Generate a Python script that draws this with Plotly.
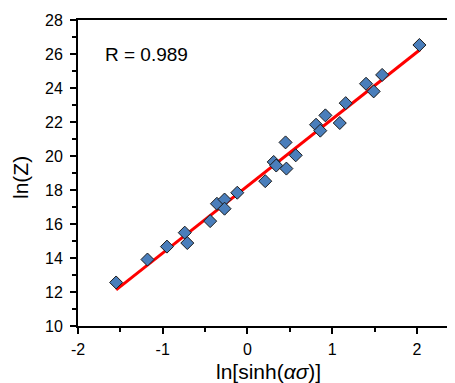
import plotly.graph_objects as go

# data
x_vals = [-1.55, -1.18, -0.95, -0.74, -0.71, -0.44, -0.36, -0.27, -0.27, -0.12,
          0.21, 0.31, 0.34, 0.45, 0.46, 0.57, 0.81, 0.86, 0.92, 1.09,
          1.16, 1.40, 1.49, 1.59, 2.03]
y_vals = [12.56, 13.91, 14.67, 15.49, 14.88, 16.17, 17.19, 17.44, 16.90, 17.84,
          18.52, 19.65, 19.44, 20.80, 19.26, 20.04, 21.84, 21.49, 22.39, 21.94,
          23.11, 24.25, 23.80, 24.77, 26.53]
fit_x = [-1.55, 2.04]
fit_slope = 3.94
fit_intercept = 18.23
fit_y = [fit_intercept + fit_slope * v for v in fit_x]
x_ticks = [-2, -1, 0, 1, 2]
x_ticklabels = ["-2", "-1", "0", "1", "2"]
y_ticks = [10, 12, 14, 16, 18, 20, 22, 24, 26, 28]
r_text = "R = 0.989"
x_title = "ln[sinh(<i>ασ</i>)]"
y_title = "ln(Z)"

FONT = "Liberation Sans, Arial, sans-serif"
OFF = 8  # default page body margin
W, H = 455 - OFF, 383 - OFF
ml, mr, mt, mb = 78 - OFF, 0, 20 - OFF, 383 - 326
pw, ph = W - ml - mr, H - mt - mb


def px_x(p):
    return (p - OFF - ml) / pw


def px_y(p):
    return 1 - (p - OFF - mt) / ph


fig = go.Figure()
fig.add_trace(go.Scatter(x=fit_x, y=fit_y, mode="lines",
                         line=dict(color="#ff0000", width=3), showlegend=False))
fig.add_trace(go.Scatter(x=x_vals, y=y_vals, mode="markers",
                         marker=dict(symbol="diamond", size=10, color="#4a7ebb",
                                     line=dict(color="#1a1a1a", width=1)),
                         showlegend=False))

fig.add_annotation(text=r_text, x=px_x(103), y=px_y(54), xref="paper", yref="paper",
                   showarrow=False, font=dict(family=FONT, size=19, color="black"),
                   xanchor="left", yanchor="middle")
fig.add_annotation(text=x_title, x=px_x(268), y=px_y(371), xref="paper", yref="paper",
                   showarrow=False, font=dict(family=FONT, size=21, color="black"),
                   xanchor="center", yanchor="middle")
fig.add_annotation(text=y_title, x=px_x(20), y=px_y(178), xref="paper", yref="paper",
                   showarrow=False, font=dict(family=FONT, size=21, color="black"),
                   xanchor="center", yanchor="middle", textangle=-90)

fig.update_layout(
    width=W, height=H, autosize=False,
    margin=dict(l=ml, r=mr, t=mt, b=mb, autoexpand=False),
    plot_bgcolor="white", paper_bgcolor="white",
    font=dict(family=FONT, color="black"),
    xaxis=dict(range=[-2, 2.45], tickvals=x_ticks, ticktext=x_ticklabels,
               showgrid=False, zeroline=False, automargin=False,
               showline=True, linecolor="black", linewidth=2, mirror=True,
               ticks="outside", ticklen=6, tickwidth=2, tickcolor="black",
               tickfont=dict(size=16, family=FONT), ticklabelstandoff=2,
               minor=dict(dtick=0.5, tick0=0, ticks="outside", ticklen=4, tickwidth=2,
                          tickcolor="black")),
    yaxis=dict(range=[10, 28], tickvals=y_ticks,
               showgrid=False, zeroline=False, automargin=False,
               showline=True, linecolor="black", linewidth=2, mirror=False,
               ticks="outside", ticklen=6, tickwidth=2, tickcolor="black",
               tickfont=dict(size=16, family=FONT), ticklabelstandoff=4,
               minor=dict(dtick=1, tick0=0, ticks="outside", ticklen=4, tickwidth=2,
                          tickcolor="black")),
)

fig.write_html("out.html")
